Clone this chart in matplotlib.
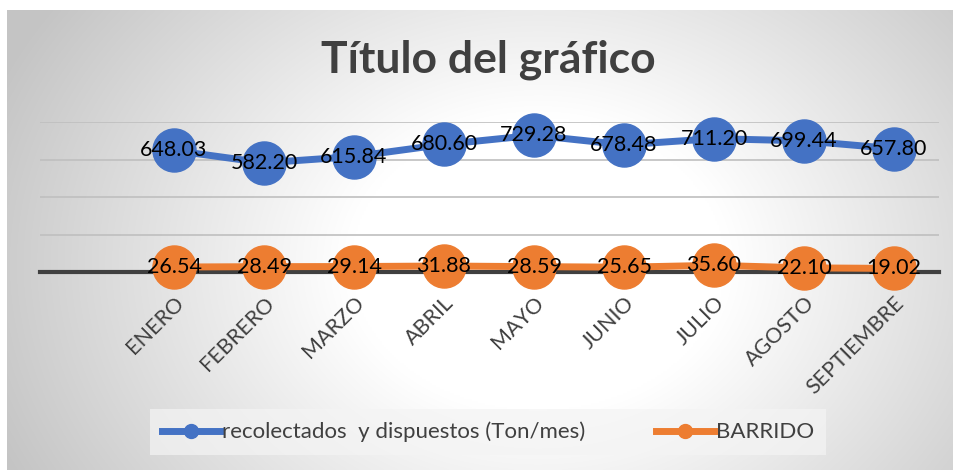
import numpy as np
import matplotlib
matplotlib.use("Agg")
import matplotlib.pyplot as plt
from matplotlib.lines import Line2D

months = ["ENERO", "FEBRERO", "MARZO", "ABRIL", "MAYO", "JUNIO", "JULIO", "AGOSTO", "SEPTIEMBRE"]
recolectados = [648.03, 582.20, 615.84, 680.60, 729.28, 678.48, 711.20, 699.44, 657.80]
barrido = [26.54, 28.49, 29.14, 31.88, 28.59, 25.65, 35.60, 22.10, 19.02]
series_names = ["recolectados  y dispuestos (Ton/mes)", "BARRIDO"]
title = "Título del gráfico"

plt.rcParams['font.family'] = ['Lato', 'DejaVu Sans']

W, H = 954, 470
fig = plt.figure(figsize=(W / 100, H / 100), dpi=100)
fig.patch.set_facecolor("white")

# radial gradient background
bg = fig.add_axes([7 / W, 0, (W - 7) / W, (H - 10) / H], zorder=-5)
ny, nx = 230, 474
yy, xx = np.mgrid[0:ny, 0:nx]
cx, cy = nx * 0.56, ny * 0.55
d = np.sqrt(((xx - cx) / (nx * 0.62)) ** 2 + ((yy - cy) / (ny * 1.0)) ** 2)
t = np.clip((d - 0.32) / 0.68, 0, 1)
v = 1.0 - t * (1.0 - 0.77)
img = np.dstack([v, v, v])
bg.imshow(img, aspect="auto", extent=[0, 1, 0, 1], origin="upper", interpolation="bilinear")
bg.set_axis_off()

ax = fig.add_axes([40 / W, 1 - 272 / H, (939 - 40) / W, 150 / H])
ax.patch.set_alpha(0)
x = np.arange(len(months))
ax.set_xlim(-(174 - 40) / 90, 8 + (939 - 894) / 90)
ax.set_ylim(0, 800)

for gy in [200, 400, 600, 800]:
    ax.axhline(gy, color="#bfbfbf", lw=1.2, zorder=0)
ax.axhline(0, color="#404040", lw=3, zorder=1, clip_on=False)

blue = "#4472C4"
orange = "#ED7D31"
ax.plot(x, recolectados, color=blue, lw=5, marker="o", ms=31, zorder=3, clip_on=False)
ax.plot(x, barrido, color=orange, lw=5, marker="o", ms=31, zorder=3, clip_on=False)

for xi, v1, v2 in zip(x, recolectados, barrido):
    ax.text(xi, v1, f"{v1:.2f}", ha="center", va="center", fontsize=15.5, color="black", zorder=5)
    ax.text(xi, v2, f"{v2:.2f}", ha="center", va="center", fontsize=15.5, color="black", zorder=5)

for s in ax.spines.values():
    s.set_visible(False)
ax.set_yticks([])
ax.set_xticks(x)
ax.set_xticklabels(months, rotation=45, ha="right", rotation_mode="anchor",
                   fontsize=15.5, color="#404040")
ax.tick_params(axis="x", length=0, pad=15)

fig.text(488 / W, 1 - 60 / H, title, ha="center", va="center", fontsize=32,
         fontweight="bold", color="#404040")

handles = [Line2D([0], [0], color=blue, lw=5, marker="o", ms=10),
           Line2D([0], [0], color=orange, lw=5, marker="o", ms=10)]
leg = fig.legend(handles, series_names, loc="center", bbox_to_anchor=(488 / W, 1 - 432 / H),
                 ncol=2, fontsize=16, frameon=True, fancybox=False, handlelength=2.6,
                 columnspacing=3.2, handletextpad=0.1, borderpad=0.55, labelcolor="#404040")
leg.get_frame().set_facecolor("#f4f4f4")
leg.get_frame().set_alpha(0.7)
leg.get_frame().set_edgecolor("none")

fig.savefig("out.png", dpi=100)
